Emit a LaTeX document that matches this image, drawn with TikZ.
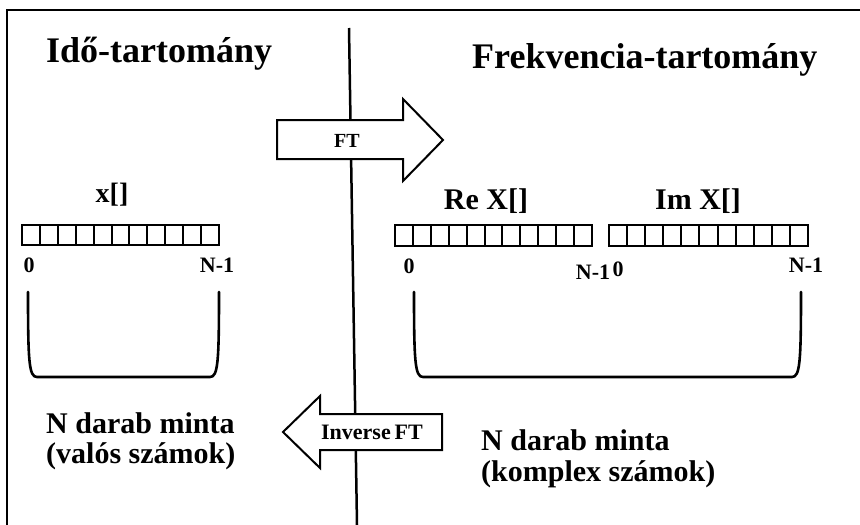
\documentclass[tikz,border=0pt]{standalone}
\usepackage{fontspec}
\setmainfont{Liberation Serif}
\begin{document}
\begin{tikzpicture}[x=1pt,y=-1pt,
  title/.style={font=\bfseries\fontsize{36}{40}\selectfont, inner sep=0, anchor=base west},
  lbl/.style={font=\bfseries\fontsize{30}{34}\selectfont, inner sep=0, anchor=base west},
  arrlbl/.style={font=\bfseries\fontsize{30}{34}\selectfont, inner sep=0, anchor=base},
  idx/.style={font=\bfseries\fontsize{22}{24}\selectfont, inner sep=0},
  ftxt/.style={font=\bfseries\fontsize{20}{24}\selectfont, inner sep=0, anchor=base},
  cellbox/.style={line width=2pt},
  brk/.style={line width=2.6pt, line cap=round},
  farrow/.style={line width=2pt, fill=white, line join=miter}]
\useasboundingbox (0,0) rectangle (860,525);
% frame
\draw[line width=2pt] (7,525) -- (7,10) -- (860,10);
% dividing line
\coordinate (vtop) at (349,28);
\coordinate (vbot) at (357,525);
\draw[line width=2.5pt] (vtop) -- (vbot);
% titles
\node[title] (tL) at (46,62) {Idő-tartomány};
\node[title] (tR) at (472,68) {Frekvencia-tartomány};
% array labels
\node[arrlbl, font=\bfseries\fontsize{28}{32}\selectfont] (xl) at (112,202) {x[]};
\node[arrlbl] (rel) at (486,209) {Re X[]};
\node[arrlbl] (iml) at (698,209) {Im X[]};
% arrays
\draw[cellbox] (22,225) rectangle (219,245);
\foreach \i in {1,...,10} \draw[cellbox] (22+\i*17.909,225) -- (22+\i*17.909,245);
\draw[cellbox] (395,225) rectangle (592,246);
\foreach \i in {1,...,10} \draw[cellbox] (395+\i*17.909,225) -- (395+\i*17.909,246);
\draw[cellbox] (609,225) rectangle (808,246);
\foreach \i in {1,...,10} \draw[cellbox] (609+\i*18.09,225) -- (609+\i*18.09,246);
% indices
\node[idx] (i0a) at (29,265) {0};
\node[idx] (i1a) at (217,265) {N-1};
\node[idx] (i0b) at (409,266) {0};
\node[idx] (i1b) at (593,272) {N-1};
\node[idx] (i0c) at (618,269) {0};
\node[idx] (i1c) at (806,265) {N-1};
% brackets
\draw[brk] (28,292) .. controls (28,362) and (29,377) .. (37,377) -- (210,377) .. controls (218,377) and (219,362) .. (219,292);
\draw[brk] (414,292) .. controls (414,362) and (415,377) .. (423,377) -- (792,377) .. controls (800,377) and (801,362) .. (801,292);
% FT arrow
\draw[farrow] (277,120) -- (403,120) -- (403,99) -- (443,140) -- (403,181) -- (403,159) -- (277,159) -- cycle;
\node[ftxt] (ft) at (347,147) {FT};
% inverse FT arrow
\draw[farrow] (442,414) -- (320,414) -- (320,396) -- (283,432) -- (320,468) -- (320,450) -- (442,450) -- cycle;
\node[ftxt, font=\bfseries\fontsize{22}{24}\selectfont] (ift) at (372,439) {Inverse\hspace{0.18em}FT};
% bottom texts
\node[lbl] (nL1) at (46,433) {N darab minta};
\node[lbl] (nL2) at (46,463) {(valós számok)};
\node[lbl] (nR1) at (481,450) {N darab minta};
\node[lbl] (nR2) at (481,481) {(komplex számok)};
\end{tikzpicture}
\end{document}
